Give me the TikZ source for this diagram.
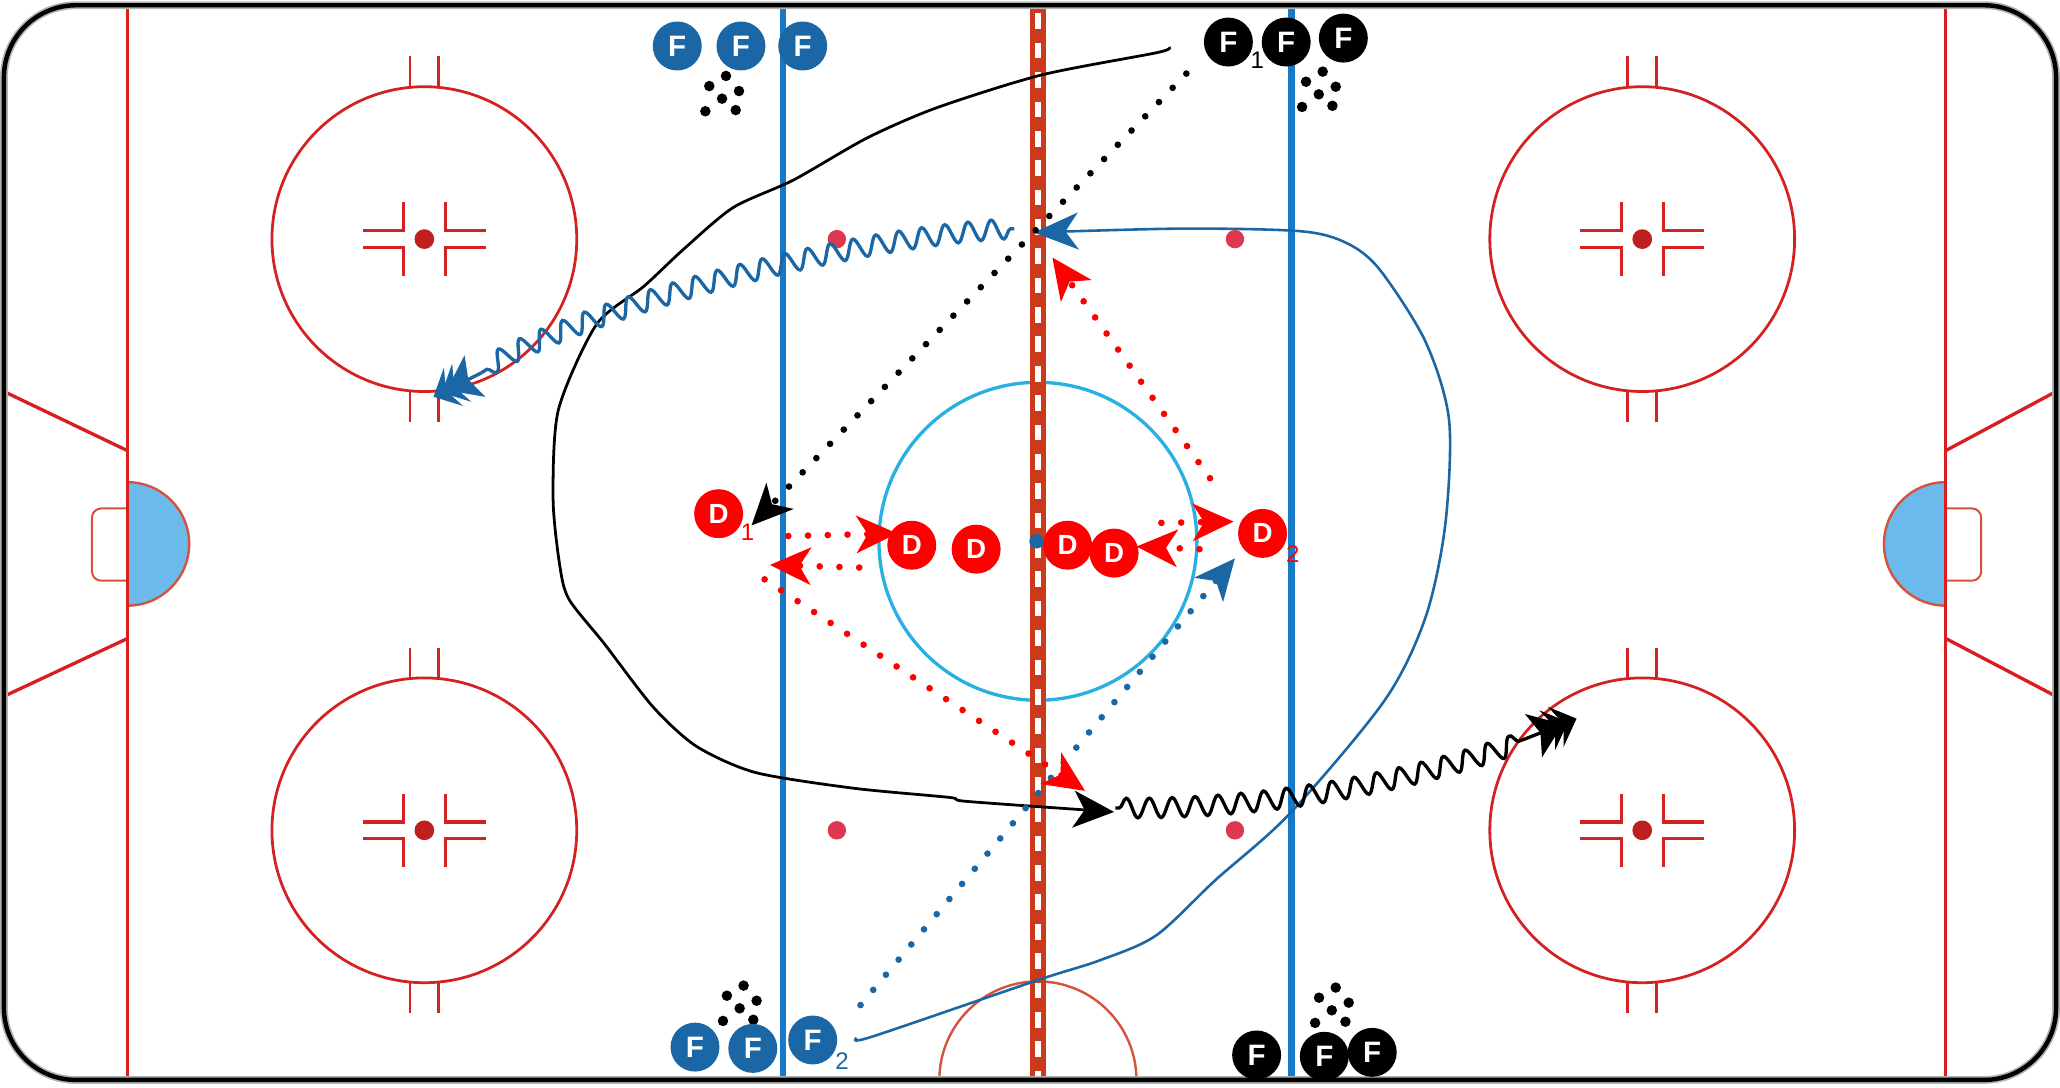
\documentclass[tikz,border=0pt]{standalone}
\usepackage{fontspec}
\setmainfont{Liberation Sans}
\newfontfamily\tokfont{Liberation Sans}
\usetikzlibrary{arrows.meta,decorations.pathmorphing}
\definecolor{rinkred}{RGB}{212,34,34}
\definecolor{goalred}{RGB}{216,30,30}
\definecolor{cred}{RGB}{204,58,30}
\definecolor{bline}{RGB}{24,122,198}
\definecolor{tokblue}{RGB}{27,102,164}
\definecolor{ccyan}{RGB}{41,176,226}
\definecolor{creasefill}{RGB}{108,186,236}
\definecolor{creasedraw}{RGB}{212,82,62}
\definecolor{ndot}{RGB}{222,56,80}
\definecolor{dred}{RGB}{255,0,0}
\begin{document}
\begin{tikzpicture}[x=0.25mm,y=-0.25mm,
  rl/.style={draw=rinkred, line width=1.5pt},
  gl/.style={draw=goalred, line width=1.8pt},
  tok/.style={circle, minimum size=26.5pt, inner sep=0pt, text=white, font=\tokfont\bfseries\fontsize{16}{16}\selectfont},
  fb/.style={tok, fill=tokblue},
  fk/.style={tok, fill=black},
  dtok/.style={tok, fill=dred, font=\tokfont\bfseries\fontsize{15}{15}\selectfont},
  sub/.style={inner sep=0pt, font=\tokfont\fontsize{13}{13}\selectfont},
  dots/.style={line width=3.6pt, line cap=round, dash pattern=on 0pt off 10.7pt},
  bigtip/.style={-{Stealth[length=22pt,width=20pt,inset=6pt]}},
  chev/.style={-{Stealth[length=17pt,width=25pt,inset=4pt,sep=-9pt]Stealth[length=12pt,width=23pt,inset=4.5pt,sep=-7pt]Stealth[length=12pt,width=23pt,inset=4.5pt]}},
  wave/.style={line width=1.8pt, decorate, decoration={snake, amplitude=5.3pt, segment length=12.5pt, post length=2pt, pre length=2pt}},
  solidpath/.style={line width=1.5pt, line join=round}
]
\useasboundingbox (0,0) rectangle (1568,828);
\fill[white] (0,0) rectangle (1568,828);

% ---------- rink ----------
% creases
\begin{scope}
  \clip (97,0) rectangle (300,828);
  \filldraw[fill=creasefill, draw=creasedraw, line width=1.3pt] (97,414) circle[radius=47];
\end{scope}
\begin{scope}
  \clip (1300,0) rectangle (1481,828);
  \filldraw[fill=creasefill, draw=creasedraw, line width=1.3pt] (1481,414) circle[radius=47];
\end{scope}
\draw[creasedraw, line width=1.1pt, rounded corners=5pt] (97,387) -- (70,387) -- (70,442) -- (97,442);
\draw[creasedraw, line width=1.1pt, rounded corners=5pt] (1481,387) -- (1508,387) -- (1508,442) -- (1481,442);
% referee crease
\begin{scope}
  \clip (3,4) rectangle (1565,822);
  \draw[creasedraw, line width=1.3pt] (790,822) circle[radius=75];
\end{scope}
% trapezoid and goal lines
\draw[gl] (3,298) -- (97,343);
\draw[gl] (97,486) -- (3,530);
\draw[gl] (1565,298) -- (1481,343);
\draw[gl] (1481,486) -- (1565,530);
\draw[gl] (97,4) -- (97,822);
\draw[gl] (1481,4) -- (1481,822);
% face-off circles
\foreach \cx/\cy in {323/182, 323/632, 1250/182, 1250/632}{
  \draw[rl] (\cx,\cy) circle[radius=116];
  \draw[rl] ({\cx-11},{\cy-115.5}) -- ({\cx-11},{\cy-139});
  \draw[rl] ({\cx+11},{\cy-115.5}) -- ({\cx+11},{\cy-139});
  \draw[rl] ({\cx-11},{\cy+115.5}) -- ({\cx-11},{\cy+139});
  \draw[rl] ({\cx+11},{\cy+115.5}) -- ({\cx+11},{\cy+139});
  \draw[rl, line width=1.7pt] ({\cx-47},{\cy-6.3}) -- ({\cx-16},{\cy-6.3}) -- ({\cx-16},{\cy-28});
  \draw[rl, line width=1.7pt] ({\cx+47},{\cy-6.3}) -- ({\cx+16},{\cy-6.3}) -- ({\cx+16},{\cy-28});
  \draw[rl, line width=1.7pt] ({\cx-47},{\cy+6.3}) -- ({\cx-16},{\cy+6.3}) -- ({\cx-16},{\cy+28});
  \draw[rl, line width=1.7pt] ({\cx+47},{\cy+6.3}) -- ({\cx+16},{\cy+6.3}) -- ({\cx+16},{\cy+28});
  \fill[rinkred!90!black] (\cx,\cy) circle[radius=7.5];
}
% neutral zone dots
\foreach \cx/\cy in {637/182, 940/182, 637/632, 940/632}{
  \fill[ndot] (\cx,\cy) circle[radius=7];
}
% center circle
\draw[ccyan, line width=1.8pt] (790,412) circle[radius=121];
% blue lines
\draw[bline, line width=3.6pt] (596,4) -- (596,822);
\draw[bline, line width=3.6pt] (983,4) -- (983,822);
% centre red line
\draw[cred, line width=8.5pt] (790,4) -- (790,822);
\draw[white, line width=3.4pt, dash pattern=on 8.5pt off 7.4pt, dash phase=-3pt] (790,6) -- (790,820);
\fill[tokblue] (789,412) circle[radius=5.5];
% boards
\draw[gray!60, line width=4.2pt, rounded corners=39pt] (3,4) rectangle (1565,822);
\draw[black, line width=2.4pt, rounded corners=39pt] (3,4) rectangle (1565,822);

% ---------- pucks ----------
\foreach \px/\py in {552.6/57.8, 1006.8/54.5, 566/750.2, 1016.7/751.7}{
  \foreach \ox/\oy in {0/0, -12.7/7.7, 9.9/11.5, -3/17.3, -15.7/26.9, 7.4/26}{
    \fill[black] ({\px+\ox},{\py+\oy}) circle[radius=4];
  }
}

% ---------- named end points ----------
\coordinate (kd1) at (903,56);
\coordinate (kd2) at (572,400);
\coordinate (ks1) at (890,36);
\coordinate (ks2) at (848,618);
\coordinate (kw1) at (849,615);
\coordinate (kwm) at (1162,562);
\coordinate (kw2) at (1200,547);
\coordinate (bw1) at (772,174);
\coordinate (bwm) at (366,284);
\coordinate (bw2) at (330,302);
\coordinate (bs1) at (652,790);
\coordinate (bs2) at (787,177);
\coordinate (bd1) at (655,765);
\coordinate (bd2) at (940,425);
\coordinate (ra1) at (921,364);
\coordinate (ra2) at (801,196);
\coordinate (rb1) at (600,408);
\coordinate (rb2) at (683,406);
\coordinate (rc1) at (654,432);
\coordinate (rc2) at (586,430);
\coordinate (rd1) at (582,441);
\coordinate (rd2) at (826,602);
\coordinate (re1) at (884,398);
\coordinate (re2) at (939,397);
\coordinate (rf1) at (913,418);
\coordinate (rf2) at (865,416);

% ---------- paths ----------
% black skating path
\draw[solidpath, black, bigtip] plot[smooth, tension=0.45] coordinates {(ks1) (881,40) (793,57) (713,82) (660,105) (604,137) (558,158) (520,190) (490,218) (454,247) (425,312) (421,380) (426,430) (433,456) (460,490) (497,538) (530,568) (575,588) (650,600) (723,607) (736,610) (ks2)};
% blue skating path
\draw[solidpath, tokblue, line width=1.4pt, -{Stealth[length=24pt,width=20pt,inset=7pt]}] plot[smooth, tension=0.5] coordinates {(bs1) (664,789) (790,746) (837,731) (880,712) (925,670) (982,619) (1054,533) (1085,470) (1100,400) (1103,320) (1085,260) (1050,205) (1025,185) (990,176) (900,174) (bs2)};
% waves (skating with puck)
\draw[wave, black] (kw1) .. controls (960,616) and (1065,597) .. (kwm);
\draw[black, line width=1.8pt, chev] (kwm) -- (kw2);
\draw[wave, tokblue] (bw1) .. controls (650,180) and (445,234) .. (bwm);
\draw[tokblue, line width=1.8pt, chev] (bwm) -- (bw2);
% dotted passes
\draw[dots, black, bigtip] (kd1) -- (kd2);
\draw[dots, tokblue, bigtip] (bd1) -- (bd2);
\draw[dots, dred, bigtip] (ra1) -- (ra2);
\draw[dots, dred, bigtip] (rb1) -- (rb2);
\draw[dots, dred, bigtip] (rc1) -- (rc2);
\draw[dots, dred, bigtip] (rd1) -- (rd2);
\draw[dots, dred, bigtip] (re1) -- (re2);
\draw[dots, dred, bigtip] (rf1) -- (rf2);

% ---------- players ----------
\node[fb] (bft1) at (515.5,35) {F};
\node[fb] (bft2) at (564,35) {F};
\node[fb] (bft3) at (611,35) {F};
\node[fk] (kft1) at (935,32) {F};
\node[fk] (kft2) at (979,32) {F};
\node[fk] (kft3) at (1022.5,29) {F};
\node[sub, text=black] (kft1s) at (957,46) {1};
\node[fb] (bfb1) at (529,797) {F};
\node[fb] (bfb2) at (573,798) {F};
\node[fb] (bfb3) at (618.6,791.6) {F};
\node[sub, text=tokblue] (bfb3s) at (641,808) {2};
\node[fk] (kfb1) at (956.5,803) {F};
\node[fk] (kfb2) at (1008,804) {F};
\node[fk] (kfb3) at (1044.5,801) {F};
\node[dtok] (d1) at (547,391) {D};
\node[sub, text=dred] (d1s) at (569,405) {1};
\node[dtok] (d3) at (694,415) {D};
\node[dtok] (d4) at (743,418) {D};
\node[dtok] (d5) at (812.6,415) {D};
\node[dtok] (d6) at (848,421) {D};
\node[dtok] (d2) at (961,406) {D};
\node[sub, text=dred] (d2s) at (984,422) {2};
\end{tikzpicture}
\end{document}
